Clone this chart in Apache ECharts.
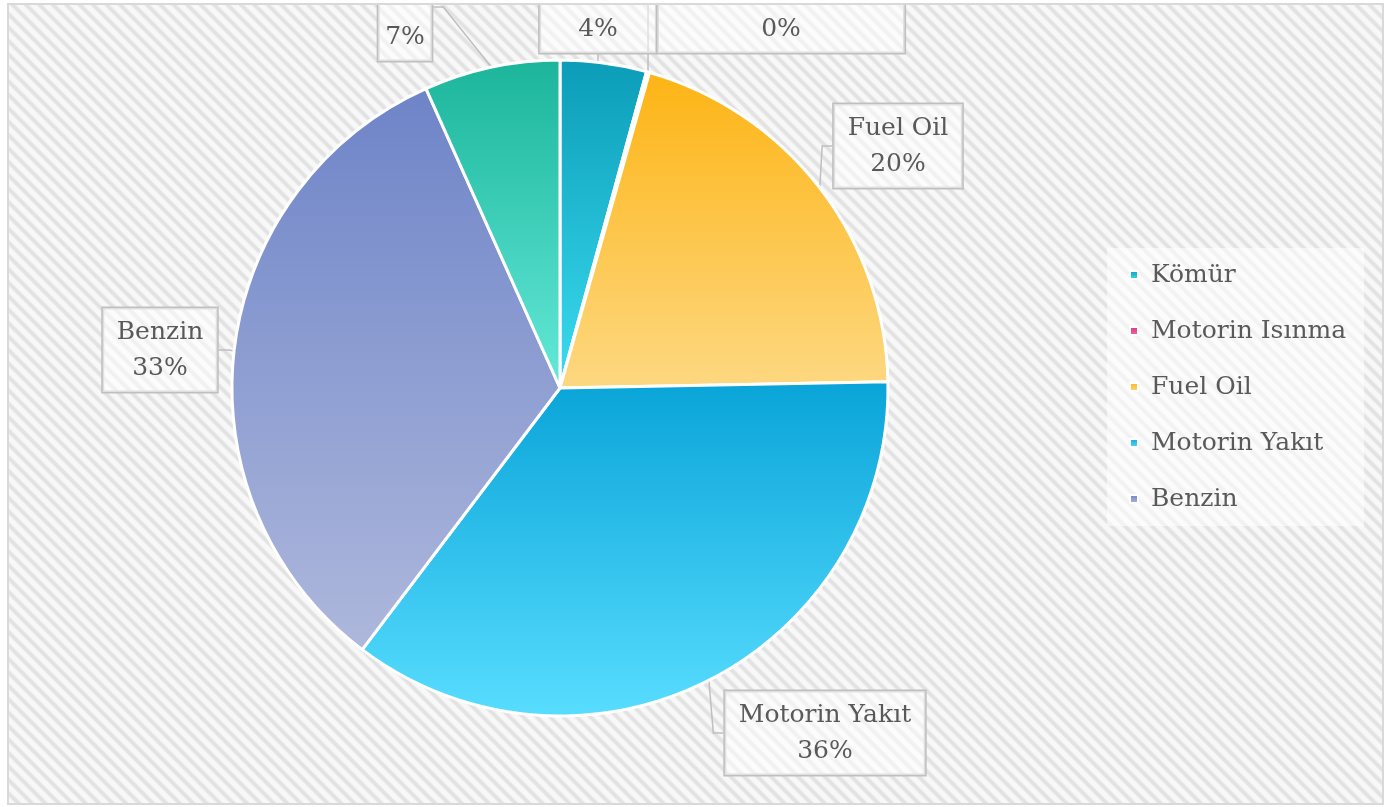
<!DOCTYPE html>
<html>
<head>
<meta charset="utf-8">
<script src="https://cdn.jsdelivr.net/npm/echarts@6/dist/echarts.min.js"></script>
<style>
  html, body { margin: 0; padding: 0; background: #ffffff; width: 1389px; height: 807px; overflow: hidden; }
  #frame {
    position: absolute; left: 7px; top: 3px; width: 1377px; height: 802px;
    box-sizing: border-box; border: 2px solid #d9d9d9;
    background: repeating-linear-gradient(45deg, #f8f8f8 0px, #f8f8f8 3.5px, #e2e2e2 5.5px, #e2e2e2 7.5px, #f8f8f8 9.5px);
  }
  #chart { position: absolute; left: 0; top: 0; width: 1373px; height: 798px; }
</style>
</head>
<body>
<div id="frame"><div id="chart"></div></div>
<script>
// Fuel consumption shares
const categories = ['Kömür', 'Motorin Isınma', 'Fuel Oil', 'Motorin Yakıt', 'Benzin', 'LPG'];
const shares = [4.25, 0.15, 20.3, 35.6, 33.0, 6.7];
const legendItems = ['Kömür', 'Motorin Isınma', 'Fuel Oil', 'Motorin Yakıt', 'Benzin'];

// slice gradients: [top, bottom]
const sliceColors = [
  ['#0b9cb8', '#3bdcf0'],
  ['#dc2f7a', '#f06ea8'],
  ['#fdb414', '#fdd882'],
  ['#09a4d8', '#58ddff'],
  ['#6e84c8', '#aeb8dc'],
  ['#1bb59a', '#64e9d9']
];

// callout box centres (chart pixels)
const labelSpots = [
  [589, -6], [772, -6], [889, 141], [816, 728], [151, 345], [396, 2]
];
// callouts running off the top edge: side padding; name line pushed above the frame
const topCallouts = { 0: 16, 1: 26, 5: 7 };

const FONT = '"DejaVu Serif", "Liberation Serif", serif';

const chart = echarts.init(document.getElementById('chart'), null, { renderer: 'canvas' });

const seriesData = categories.map((name, i) => {
  const item = {
    name: name,
    value: shares[i],
    itemStyle: {
      color: {
        type: 'linear', x: 0, y: 0, x2: 0, y2: 1,
        colorStops: [
          { offset: 0, color: sliceColors[i][0] },
          { offset: 1, color: sliceColors[i][1] }
        ]
      }
    }
  };
  if (topCallouts[i] !== undefined) {
    item.label = {
      padding: [6, topCallouts[i], 6, topCallouts[i]],
      rich: {
        n: { fontFamily: FONT, fontSize: i === 5 ? 16 : 25, lineHeight: 60, color: '#595959' }
      }
    };
  }
  return item;
});

chart.setOption({
  backgroundColor: 'transparent',
  animation: false,
  legend: {
    orient: 'vertical',
    left: 1098,
    top: 243,
    data: legendItems,
    icon: 'rect',
    itemWidth: 8,
    itemHeight: 8,
    itemGap: 28,
    padding: [13, 18, 13, 22],
    backgroundColor: 'rgba(255,255,255,0.55)',
    textStyle: {
      fontFamily: FONT,
      fontSize: 25,
      color: '#595959',
      lineHeight: 28,
      padding: [0, 0, 0, 8]
    }
  },
  series: [{
    type: 'pie',
    center: [551, 383],
    radius: [0, 328],
    startAngle: 90,
    clockwise: true,
    avoidLabelOverlap: false,
    data: seriesData,
    itemStyle: { borderColor: '#ffffff', borderWidth: 3 },
    label: {
      show: true,
      position: 'outside',
      formatter: p => '{n|' + p.name + '}\n{p|' + Math.round(p.percent) + '%}',
      rich: {
        n: { fontFamily: FONT, fontSize: 25, lineHeight: 36, color: '#595959' },
        p: { fontFamily: FONT, fontSize: 25, lineHeight: 36, color: '#595959' }
      },
      fontFamily: FONT,
      fontSize: 25,
      color: '#595959',
      align: 'center',
      backgroundColor: 'rgba(255,255,255,0.5)',
      borderColor: '#bfbfbf',
      borderWidth: 1.5,
      padding: [6, 14, 6, 14]
    },
    labelLine: {
      show: true,
      length: 10,
      length2: 10,
      lineStyle: { color: '#bfbfbf', width: 1.5 }
    },
    labelLayout: function (params) {
      const spot = labelSpots[params.dataIndex];
      return { x: spot[0], y: spot[1], align: 'center', verticalAlign: 'middle' };
    },
    emphasis: { disabled: true }
  }]
});
</script>
</body>
</html>
